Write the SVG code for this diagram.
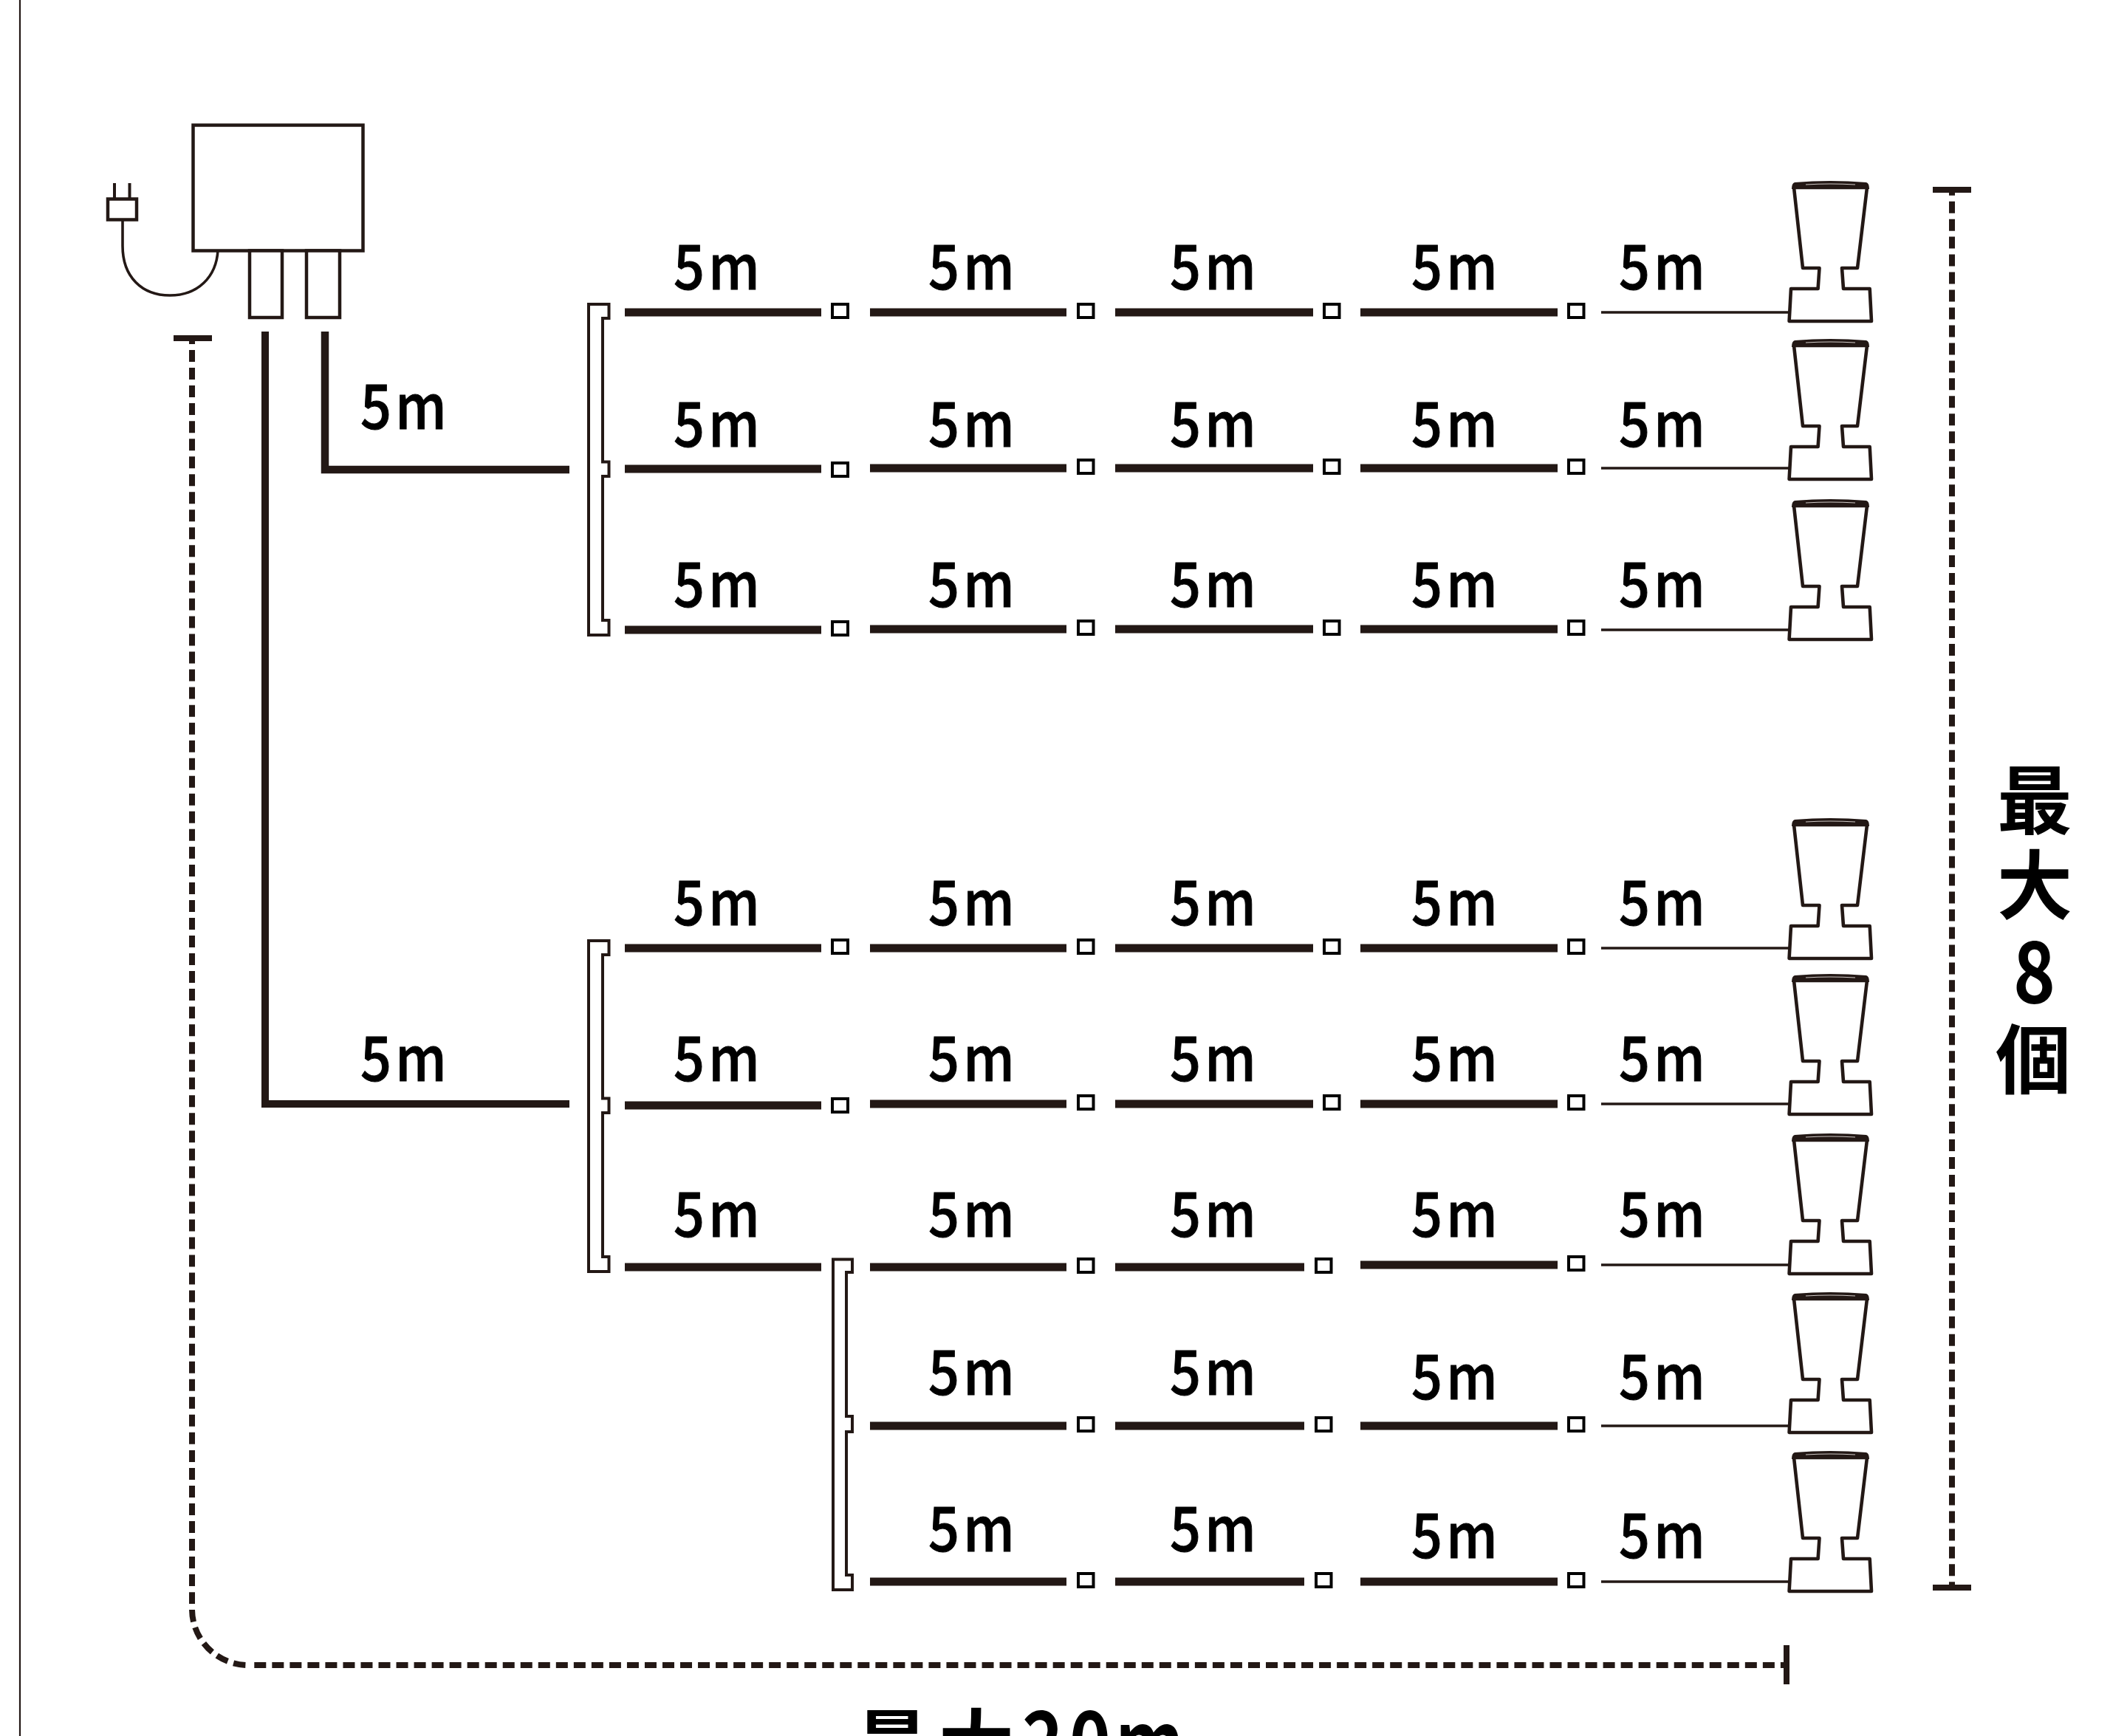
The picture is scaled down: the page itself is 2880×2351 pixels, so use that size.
<svg xmlns="http://www.w3.org/2000/svg" xmlns:xlink="http://www.w3.org/1999/xlink" width="2880" height="2351" viewBox="0 0 2880 2351">
<style>
.l{font-family:"Noto Sans CJK JP","Noto Sans",sans-serif;font-size:84px;font-weight:500;fill:#000;stroke:#000;stroke-width:1;letter-spacing:6px}
.b{font-family:"Noto Sans CJK JP","Noto Sans",sans-serif;font-size:102px;font-weight:700;fill:#000}
.d{font-size:114px}
.o{fill:#fff;stroke:#231815;stroke-width:4.5}
.w{fill:none;stroke:#231815;stroke-width:11}
.v{fill:none;stroke:#231815;stroke-width:10}
.t{fill:none;stroke:#231815;stroke-width:3.4}
.s{fill:#fff;stroke:#000;stroke-width:4}
.br{fill:#fff;stroke:#231815;stroke-width:4}
.da{fill:none;stroke:#231815;stroke-width:8}
.bar{fill:#231815}
</style>
<defs>
<g id="lamp">
<path d="M2429,254 L2441,363 H2463.5 L2461.6,391 H2425 L2422.6,435 H2534 L2531.7,391 H2496 L2494,363 H2515 L2528,254 Z" fill="#fff" stroke="#231815" stroke-width="4.6" stroke-linejoin="round"/>
<path d="M2430,247 Q2478,243 2527,247 Q2531,248 2531,256 H2426 Q2426,248 2430,247 Z" fill="#231815"/>
<path d="M2445,250 Q2478,248 2512,250" fill="none" stroke="#cfc9c6" stroke-width="1.2"/>
</g>
<path id="brk" d="M797,412 H824.5 V431 H816 V625.5 H824.5 V645 H816 V840 H824.5 V860 H797 Z"/>
</defs>
<rect width="2880" height="2351" fill="#fff"/>
<line x1="27" y1="0" x2="27" y2="2351" stroke="#231815" stroke-width="2.2"/>

<g id="connectors">
<path class="v" d="M359,449 V1495 H771"/>
<path class="v" d="M440,449 V636 H771" style="stroke-width:10.500"/>
<g id="runs">
<path class="w" d="M846,423 H1112 M1178,423 H1444 M1510,423 H1778 M1842,423 H2109"/>
<path class="w" d="M846,635 H1112 M1178,634 H1444 M1510,634 H1778 M1842,634 H2109"/>
<path class="w" d="M846,853 H1112 M1178,852 H1444 M1510,852 H1778 M1842,852 H2109"/>
<path class="w" d="M846,1284 H1112 M1178,1284 H1444 M1510,1284 H1778 M1842,1284 H2109"/>
<path class="w" d="M846,1497 H1112 M1178,1495 H1444 M1510,1495 H1778 M1842,1495 H2109"/>
<path class="w" d="M846,1716 H1112 M1178,1716 H1444 M1510,1716 H1766 M1842,1713 H2109"/>
<path class="w" d="M1178,1931 H1444 M1510,1931 H1766 M1842,1931 H2109"/>
<path class="w" d="M1178,2142 H1444 M1510,2142 H1766 M1842,2142 H2109"/>
<path class="t" d="M2168,423 H2424 M2168,634 H2424 M2168,853 H2424 M2168,1284 H2424 M2168,1495 H2424 M2168,1713 H2424 M2168,1931 H2424 M2168,2142 H2424"/>
</g>
<g id="dimension-left">
<path class="da" d="M260,458 V2172" stroke-dasharray="16 8.03" stroke-dashoffset="8"/>
<path class="da" d="M260,2180 A76,76 0 0 0 336,2255" stroke-dasharray="16.5 8"/>
<path class="da" d="M344.3,2255 H2416" stroke-dasharray="16 8.03"/>
<rect class="bar" x="235" y="454" width="52" height="8"/>
<rect class="bar" x="2415" y="2228" width="8" height="53"/>
</g>
<g id="dimension-right">
<path class="da" d="M2643,257 V2150" stroke-dasharray="16 7.97" stroke-dashoffset="8.300"/>
<rect class="bar" x="2617" y="253" width="52" height="8"/>
<rect class="bar" x="2617" y="2146" width="52" height="8"/>
</g>
</g>

<g id="controller">
<path d="M166,298 V333 C166,375 192,400 230,400 C268,400 293,375 295,339" fill="none" stroke="#231815" stroke-width="3.6"/>
<rect class="o" x="261.500" y="169.500" width="230" height="170"/>
<rect class="o" x="338" y="339.500" width="44" height="90.500"/>
<rect class="o" x="415" y="339.500" width="45" height="90.500"/>
</g>
<g id="plug">
<path d="M155,248 V270 M175.5,248 V270" stroke="#231815" stroke-width="4" fill="none"/>
<rect class="o" x="146" y="269.500" width="39" height="28"/>
</g>

<g id="splitter-1"><use xlink:href="#brk" href="#brk" class="br"/></g>
<g id="splitter-2"><use xlink:href="#brk" href="#brk" class="br" transform="translate(0,862)"/></g>
<g id="splitter-3"><path class="br" d="M1128,1705.5 H1154 V1723 H1146 V1918 H1154 V1939 H1146 V2133 H1154 V2153 H1128 Z"/></g>

<g id="couplers">
<g id="row-1-couplers"><rect class="s" x="1127" y="412" width="21" height="18"/><rect class="s" x="1460" y="412" width="20.500" height="18"/><rect class="s" x="1793" y="412" width="20.500" height="18"/><rect class="s" x="2124" y="412" width="20.500" height="18"/></g>
<g id="row-2-couplers"><rect class="s" x="1127" y="627" width="21" height="18"/><rect class="s" x="1460" y="623" width="20.500" height="18"/><rect class="s" x="1793" y="623" width="20.500" height="18"/><rect class="s" x="2124" y="623" width="20.500" height="18"/></g>
<g id="row-3-couplers"><rect class="s" x="1127" y="842" width="21" height="18"/><rect class="s" x="1460" y="841" width="20.500" height="18"/><rect class="s" x="1793" y="841" width="20.500" height="18"/><rect class="s" x="2124" y="841" width="20.500" height="18"/></g>
<g id="row-4-couplers"><rect class="s" x="1127" y="1273" width="21" height="18"/><rect class="s" x="1460" y="1273" width="20.500" height="18"/><rect class="s" x="1793" y="1273" width="20.500" height="18"/><rect class="s" x="2124" y="1273" width="20.500" height="18"/></g>
<g id="row-5-couplers"><rect class="s" x="1127" y="1488" width="21" height="18"/><rect class="s" x="1460" y="1484" width="20.500" height="18"/><rect class="s" x="1793" y="1484" width="20.500" height="18"/><rect class="s" x="2124" y="1484" width="20.500" height="18"/></g>
<g id="row-6-couplers"><rect class="s" x="1460" y="1705" width="20.500" height="18"/><rect class="s" x="1782" y="1705" width="20.500" height="18"/><rect class="s" x="2124" y="1702" width="20.500" height="18"/></g>
<g id="row-7-couplers"><rect class="s" x="1460" y="1920" width="20.500" height="18"/><rect class="s" x="1782" y="1920" width="20.500" height="18"/><rect class="s" x="2124" y="1920" width="20.500" height="18"/></g>
<g id="row-8-couplers"><rect class="s" x="1460" y="2131" width="20.500" height="18"/><rect class="s" x="1782" y="2131" width="20.500" height="18"/><rect class="s" x="2124" y="2131" width="20.500" height="18"/></g>
</g>

<g id="lamps">
<g id="lamp-1"><use xlink:href="#lamp" href="#lamp"/></g>
<g id="lamp-2"><use xlink:href="#lamp" href="#lamp" transform="translate(0,214)"/></g>
<g id="lamp-3"><use xlink:href="#lamp" href="#lamp" transform="translate(0,431)"/></g>
<g id="lamp-4"><use xlink:href="#lamp" href="#lamp" transform="translate(0,863)"/></g>
<g id="lamp-5"><use xlink:href="#lamp" href="#lamp" transform="translate(0,1074)"/></g>
<g id="lamp-6"><use xlink:href="#lamp" href="#lamp" transform="translate(0,1290)"/></g>
<g id="lamp-7"><use xlink:href="#lamp" href="#lamp" transform="translate(0,1505)"/></g>
<g id="lamp-8"><use xlink:href="#lamp" href="#lamp" transform="translate(0,1720)"/></g>
</g>

<g id="labels">
<text class="l" textLength="122" lengthAdjust="spacingAndGlyphs" x="488" y="581">5m</text>
<text class="l" textLength="122" lengthAdjust="spacingAndGlyphs" x="488" y="1464">5m</text>
<text class="l" textLength="122" lengthAdjust="spacingAndGlyphs" x="912" y="392">5m</text><text class="l" textLength="122" lengthAdjust="spacingAndGlyphs" x="1257" y="392">5m</text><text class="l" textLength="122" lengthAdjust="spacingAndGlyphs" x="1584" y="392">5m</text><text class="l" textLength="122" lengthAdjust="spacingAndGlyphs" x="1911" y="392">5m</text><text class="l" textLength="122" lengthAdjust="spacingAndGlyphs" x="2192" y="392">5m</text>
<text class="l" textLength="122" lengthAdjust="spacingAndGlyphs" x="912" y="605">5m</text><text class="l" textLength="122" lengthAdjust="spacingAndGlyphs" x="1257" y="605">5m</text><text class="l" textLength="122" lengthAdjust="spacingAndGlyphs" x="1584" y="605">5m</text><text class="l" textLength="122" lengthAdjust="spacingAndGlyphs" x="1911" y="605">5m</text><text class="l" textLength="122" lengthAdjust="spacingAndGlyphs" x="2192" y="605">5m</text>
<text class="l" textLength="122" lengthAdjust="spacingAndGlyphs" x="912" y="822">5m</text><text class="l" textLength="122" lengthAdjust="spacingAndGlyphs" x="1257" y="822">5m</text><text class="l" textLength="122" lengthAdjust="spacingAndGlyphs" x="1584" y="822">5m</text><text class="l" textLength="122" lengthAdjust="spacingAndGlyphs" x="1911" y="822">5m</text><text class="l" textLength="122" lengthAdjust="spacingAndGlyphs" x="2192" y="822">5m</text>
<text class="l" textLength="122" lengthAdjust="spacingAndGlyphs" x="912" y="1253">5m</text><text class="l" textLength="122" lengthAdjust="spacingAndGlyphs" x="1257" y="1253">5m</text><text class="l" textLength="122" lengthAdjust="spacingAndGlyphs" x="1584" y="1253">5m</text><text class="l" textLength="122" lengthAdjust="spacingAndGlyphs" x="1911" y="1253">5m</text><text class="l" textLength="122" lengthAdjust="spacingAndGlyphs" x="2192" y="1253">5m</text>
<text class="l" textLength="122" lengthAdjust="spacingAndGlyphs" x="912" y="1464">5m</text><text class="l" textLength="122" lengthAdjust="spacingAndGlyphs" x="1257" y="1464">5m</text><text class="l" textLength="122" lengthAdjust="spacingAndGlyphs" x="1584" y="1464">5m</text><text class="l" textLength="122" lengthAdjust="spacingAndGlyphs" x="1911" y="1464">5m</text><text class="l" textLength="122" lengthAdjust="spacingAndGlyphs" x="2192" y="1464">5m</text>
<text class="l" textLength="122" lengthAdjust="spacingAndGlyphs" x="912" y="1675">5m</text><text class="l" textLength="122" lengthAdjust="spacingAndGlyphs" x="1257" y="1675">5m</text><text class="l" textLength="122" lengthAdjust="spacingAndGlyphs" x="1584" y="1675">5m</text><text class="l" textLength="122" lengthAdjust="spacingAndGlyphs" x="1911" y="1675">5m</text><text class="l" textLength="122" lengthAdjust="spacingAndGlyphs" x="2192" y="1675">5m</text>
<text class="l" textLength="122" lengthAdjust="spacingAndGlyphs" x="1257" y="1889">5m</text><text class="l" textLength="122" lengthAdjust="spacingAndGlyphs" x="1584" y="1889">5m</text><text class="l" textLength="122" lengthAdjust="spacingAndGlyphs" x="1911" y="1895">5m</text><text class="l" textLength="122" lengthAdjust="spacingAndGlyphs" x="2192" y="1895">5m</text>
<text class="l" textLength="122" lengthAdjust="spacingAndGlyphs" x="1257" y="2101">5m</text><text class="l" textLength="122" lengthAdjust="spacingAndGlyphs" x="1584" y="2101">5m</text><text class="l" textLength="122" lengthAdjust="spacingAndGlyphs" x="1911" y="2110">5m</text><text class="l" textLength="122" lengthAdjust="spacingAndGlyphs" x="2192" y="2110">5m</text>
<text class="b" x="2755" y="1122" text-anchor="middle">最</text>
<text class="b" x="2755" y="1237" text-anchor="middle">大</text>
<text class="b d" textLength="57" lengthAdjust="spacingAndGlyphs" x="2726" y="1358">8</text>
<text class="b" x="2753" y="1473" text-anchor="middle">個</text>
<text class="b" x="1157" y="2400">最</text>
<text class="b" x="1271" y="2400">大</text>
<text class="b d" textLength="56" lengthAdjust="spacingAndGlyphs" x="1384" y="2400">2</text>
<text class="b d" textLength="56" lengthAdjust="spacingAndGlyphs" x="1448" y="2400">0</text>
<text class="b d" textLength="93" lengthAdjust="spacingAndGlyphs" x="1510" y="2400">m</text>
</g>
</svg>
